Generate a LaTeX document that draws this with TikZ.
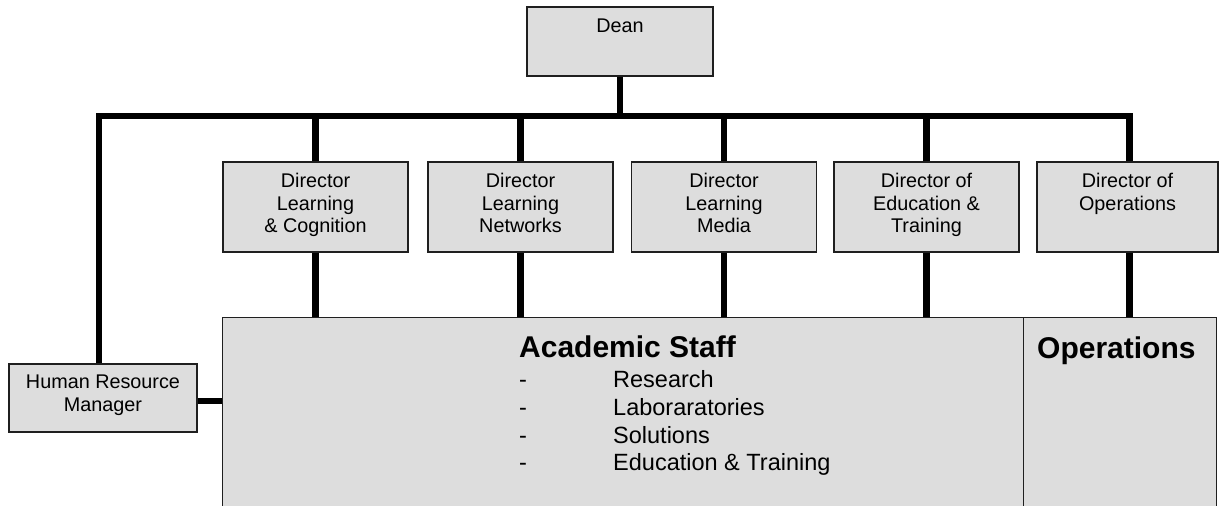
\documentclass[tikz,border=0pt]{standalone}
\usepackage{fontspec}
\setmainfont{Liberation Sans}
\definecolor{boxgray}{HTML}{DDDDDD}
\begin{document}
\begin{tikzpicture}[x=1pt,y=-1pt,
  box/.style={draw=black!88, line width=1.3pt, fill=boxgray, inner sep=0pt},
  dirbox/.style={box, minimum width=185pt, minimum height=90pt},
  conn/.style={line width=6.5pt, line cap=butt, line join=miter},
  lbl/.style={inner sep=0pt, align=center, anchor=north, font=\fontsize{19.8}{22.5}\selectfont},
  big/.style={inner sep=0pt, anchor=base west, font=\fontsize{30}{34}\selectfont\bfseries},
  item/.style={inner sep=0pt, anchor=base west, font=\fontsize{23.5}{28}\selectfont}]
\path[use as bounding box, fill=white] (0,0) rectangle (1219,506);

% boxes
\node[box, minimum width=186pt, minimum height=69pt] (dean) at (620,41.5) {};
\node[dirbox] (dlc) at (315.5,207) {};
\node[dirbox] (dln) at (520.5,207) {};
\node[dirbox] (dlm) at (724,207) {};
\node[dirbox] (det) at (926.5,207) {};
\node[dirbox, minimum width=181pt] (dop) at (1127.5,207) {};
\node[box, minimum width=801pt, minimum height=200pt, anchor=north west] (acad) at (222,317) {};
\node[box, minimum width=193pt, minimum height=200pt, anchor=north west] (ops) at (1023,317) {};
\node[box, minimum width=188pt, minimum height=68pt] (hr) at (103,398) {};

% connector coordinates
\coordinate (barL) at (99,116);
\coordinate (barR) at (1129.5,116);
\coordinate (hrc) at (0,401);

% connectors
\draw[conn] (dean.south) -- (dean.south |- barL);
\draw[conn] (hr.north -| barL) -- (barL) -- (barR) -- (barR |- dop.north);
\foreach \n in {dlc,dln,dlm,det}{
  \draw[conn] (\n.north) -- (\n.north |- barL);
  \draw[conn] (\n.south) -- (\n.south |- acad.north);
}
\draw[conn] (dop.south -| barR) -- (barR |- ops.north);
\draw[conn] (hr.east |- hrc) -- (acad.west |- hrc);

% labels
\node[lbl] (tdean) at ([yshift=-12pt]dean.north) {Dean};
\node[lbl] (tdlc) at ([yshift=-11.8pt]dlc.north) {Director\\Learning\\\& Cognition};
\node[lbl] (tdln) at ([yshift=-11.8pt]dln.north) {Director\\Learning\\Networks};
\node[lbl] (tdlm) at ([yshift=-11.8pt]dlm.north) {Director\\Learning\\Media};
\node[lbl] (tdet) at ([yshift=-11.8pt]det.north) {Director of\\Education \&\\Training};
\node[lbl] (tdop) at ([yshift=-11.8pt]dop.north) {Director of\\Operations};
\node[lbl, font=\fontsize{19.8}{23.5}\selectfont] (thr) at ([yshift=-11pt]hr.north) {Human Resource\\Manager};

\node[big] (tacad) at (519,357) {Academic Staff};
\node[big] (tops) at (1037,358) {Operations};
\node[item] (d1) at (519,387) {-};
\node[item] (d2) at (519,415) {-};
\node[item] (d3) at (519,443) {-};
\node[item] (d4) at (519,470) {-};
\node[item] (i1) at (613,387) {Research};
\node[item] (i2) at (613,415) {Laboraratories};
\node[item] (i3) at (613,443) {Solutions};
\node[item] (i4) at (613,470) {Education \& Training};
\end{tikzpicture}
\end{document}
